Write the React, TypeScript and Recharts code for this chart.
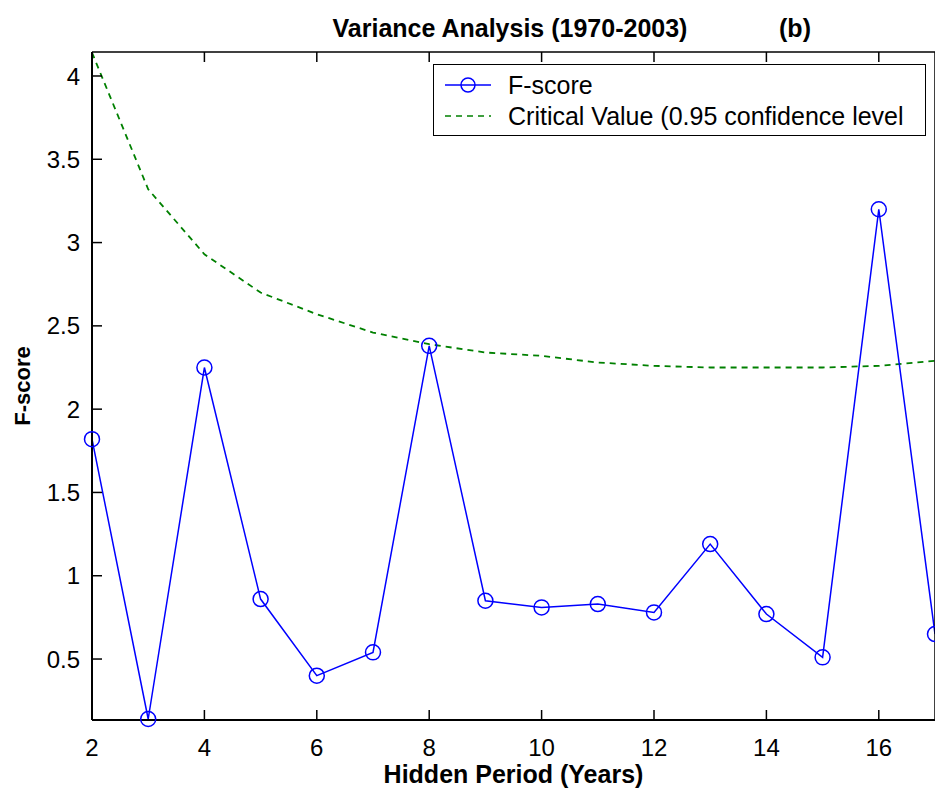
import React from 'react'
import { LineChart, Line, XAxis, YAxis, Legend } from 'recharts'

const periods = [2, 3, 4, 5, 6, 7, 8, 9, 10, 11, 12, 13, 14, 15, 16, 17]
const fScore = [1.82, 0.14, 2.25, 0.86, 0.4, 0.54, 2.38, 0.85, 0.81, 0.83, 0.78, 1.19, 0.77, 0.51, 3.2, 0.65]
const criticalValue = [4.14, 3.32, 2.93, 2.7, 2.57, 2.46, 2.39, 2.34, 2.32, 2.28, 2.26, 2.25, 2.25, 2.25, 2.26, 2.29]
const xTicks = [2, 4, 6, 8, 10, 12, 14, 16]
const yTicks = [0.5, 1, 1.5, 2, 2.5, 3, 3.5, 4]

const data = periods.map((p, i) => ({ period: p, f: fScore[i], crit: criticalValue[i] }))

const font = '"Liberation Sans", Arial, Helvetica, sans-serif'
const tickStyle = { fontSize: 24, fill: '#000', fontFamily: font }
const blank = () => ''

function LegendBox() {
    return (
        <div
            style={{
                width: 493,
                height: 72,
                boxSizing: 'border-box',
                border: '1.5px solid #000',
                background: '#fff',
                fontFamily: font,
                fontSize: 25,
                color: '#000',
            }}
        >
            <div style={{ display: 'flex', alignItems: 'center', height: 32, marginTop: 4 }}>
                <svg width={74} height={20}>
                    <line x1={11} y1={10} x2={57} y2={10} stroke="#0000ff" strokeWidth={1.5} />
                    <circle cx={34} cy={10} r={7} fill="none" stroke="#0000ff" strokeWidth={1.5} />
                </svg>
                <span>F-score</span>
            </div>
            <div style={{ display: 'flex', alignItems: 'center', height: 30 }}>
                <svg width={74} height={20}>
                    <line x1={11} y1={10} x2={57} y2={10} stroke="#008000" strokeWidth={1.5} strokeDasharray="6 5" />
                </svg>
                <span>Critical Value (0.95 confidence level</span>
            </div>
        </div>
    )
}

export default function App() {
    return (
        <div style={{ position: 'fixed', left: 0, top: 0, width: 935, height: 793, overflow: 'hidden', background: '#fff' }}>
            <div style={{ position: 'absolute', left: 8, top: 8, width: 940, height: 785 }}>
                <div
                    style={{
                        position: 'absolute',
                        left: 302,
                        top: 5,
                        width: 400,
                        textAlign: 'center',
                        fontFamily: font,
                        fontWeight: 'bold',
                        fontSize: 25,
                        lineHeight: '30px',
                    }}
                >
                    Variance Analysis (1970-2003)
                </div>
                <div
                    style={{
                        position: 'absolute',
                        left: 767,
                        top: 5,
                        width: 40,
                        textAlign: 'center',
                        fontFamily: font,
                        fontWeight: 'bold',
                        fontSize: 25,
                        lineHeight: '30px',
                    }}
                >
                    (b)
                </div>
                <LineChart width={940} height={785} data={data} margin={{ top: 43, right: 12, left: 0, bottom: 8 }}>
                    <XAxis
                        xAxisId="b"
                        dataKey="period"
                        type="number"
                        domain={[2, 17]}
                        ticks={xTicks}
                        height={65}
                        tickSize={-10}
                        tickMargin={29}
                        tick={tickStyle}
                        axisLine={{ stroke: '#000', strokeWidth: 2 }}
                        tickLine={{ stroke: '#000', strokeWidth: 1.5 }}
                        label={{
                            value: 'Hidden Period (Years)',
                            position: 'insideBottom',
                            offset: 2,
                            style: { fontSize: 25, fontWeight: 'bold', fill: '#000', fontFamily: font },
                        }}
                    />
                    <XAxis
                        xAxisId="t"
                        orientation="top"
                        dataKey="period"
                        type="number"
                        domain={[2, 17]}
                        ticks={xTicks}
                        height={1}
                        tickSize={-10}
                        tickFormatter={blank}
                        axisLine={{ stroke: '#000', strokeWidth: 1.5 }}
                        tickLine={{ stroke: '#000', strokeWidth: 1.5 }}
                    />
                    <YAxis
                        yAxisId="l"
                        type="number"
                        domain={[0.134, 4.144]}
                        ticks={yTicks}
                        width={84}
                        tickSize={-10}
                        tickMargin={22}
                        tick={tickStyle}
                        axisLine={{ stroke: '#000', strokeWidth: 2 }}
                        tickLine={{ stroke: '#000', strokeWidth: 1.5 }}
                        label={{
                            value: 'F-score',
                            angle: -90,
                            position: 'insideLeft',
                            offset: 14,
                            style: { textAnchor: 'middle', fontSize: 22, fontWeight: 'bold', fill: '#000', fontFamily: font },
                        }}
                    />
                    <YAxis
                        yAxisId="r"
                        orientation="right"
                        type="number"
                        domain={[0.134, 4.144]}
                        ticks={yTicks}
                        width={1}
                        tickSize={-10}
                        tickFormatter={blank}
                        axisLine={{ stroke: '#000', strokeWidth: 1.5 }}
                        tickLine={{ stroke: '#000', strokeWidth: 1.5 }}
                    />
                    <Legend
                        layout="horizontal"
                        verticalAlign="middle"
                        align="center"
                        wrapperStyle={{ position: 'absolute', left: 425, top: 56, width: 493, height: 72 }}
                        content={() => <LegendBox />}
                    />
                    <Line
                        xAxisId="b"
                        yAxisId="l"
                        type="linear"
                        dataKey="crit"
                        stroke="#008000"
                        strokeWidth={1.8}
                        strokeDasharray="6 5"
                        dot={false}
                        isAnimationActive={false}
                    />
                    <Line
                        xAxisId="b"
                        yAxisId="l"
                        type="linear"
                        dataKey="f"
                        stroke="#0000ff"
                        strokeWidth={1.5}
                        dot={{ r: 7.5, fill: 'none', stroke: '#0000ff', strokeWidth: 1.5 }}
                        isAnimationActive={false}
                    />
                </LineChart>
            </div>
        </div>
    )
}
